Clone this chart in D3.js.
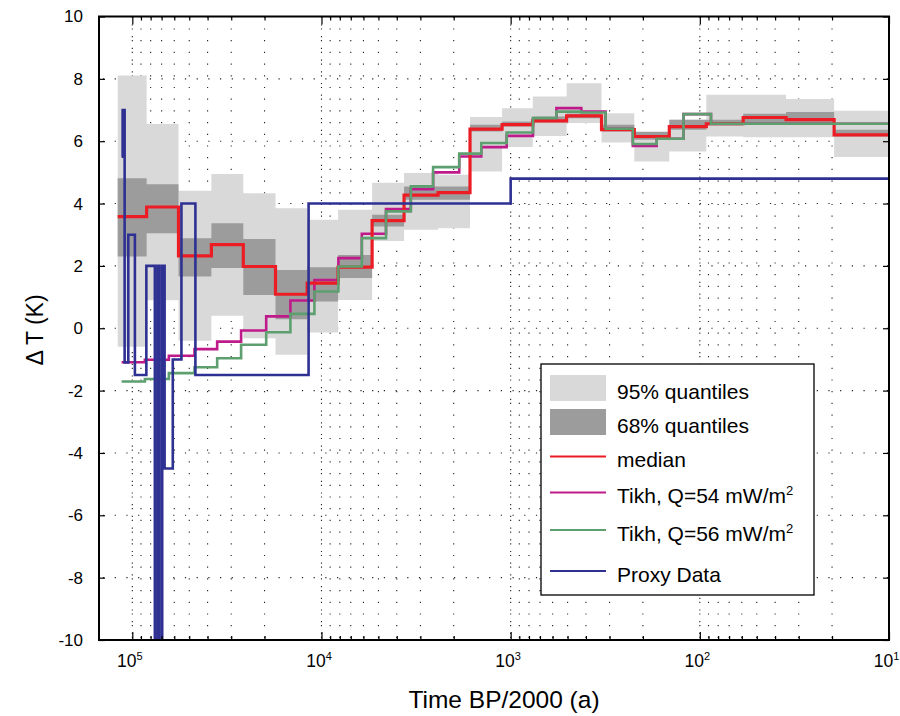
<!DOCTYPE html>
<html><head><meta charset="utf-8">
<script src="https://cdn.jsdelivr.net/npm/d3@7"></script>
<style>body{margin:0;background:#fff;} svg{display:block;font-family:"Liberation Sans",Arial,sans-serif;}</style>
</head><body><svg id="c" width="900" height="716"></svg>
<script>
// ---------- DATA ----------
// median / quantile layer edges (time BP/2000, years)
const medEdges = [119500, 84000, 57000, 38200, 25900, 17500, 11900, 8170, 5400, 3660, 2420, 1640, 1110, 764, 506, 331, 222, 145, 92.4, 59, 35, 19.5, 10];
const median = [3.58, 3.89, 2.32, 2.68, 1.98, 1.09, 1.45, 1.96, 3.45, 4.27, 4.35, 6.39, 6.53, 6.65, 6.81, 6.37, 6.15, 6.47, 6.56, 6.76, 6.69, 6.2];
const q95lo = [-0.59, 0.9, -0.4, 0.4, -0.32, -0.85, -0.14, 0.91, 2.8, 3.16, 3.21, 5.03, 5.81, 6.17, 6.58, 5.96, 5.35, 5.67, 6.15, 6.13, 6.13, 5.49];
const q95hi = [8.11, 6.55, 4.41, 4.95, 4.33, 3.85, 3.48, 3.8, 4.67, 4.98, 4.92, 6.78, 7.06, 7.43, 7.86, 6.9, 6.24, 6.69, 7.49, 7.49, 7.35, 6.98];
const q68lo = [2.30, 3.05, 1.66, 1.93, 1.07, 0.29, 0.86, 1.61, 3.26, 4.12, 4.12, 6.31, 6.47, 6.6, 6.74, 6.31, 6.05, 6.37, 6.5, 6.58, 6.58, 6.15];
const q68hi = [4.81, 4.62, 2.89, 3.37, 2.86, 1.87, 1.96, 2.35, 3.64, 4.55, 4.55, 6.53, 6.63, 6.79, 6.89, 6.53, 6.3, 6.69, 6.69, 6.88, 6.94, 6.37];
// Tikhonov solutions
const tikhEdges = [113900, 85800, 64100, 46900, 35600, 26600, 19600, 14600, 10900, 8140, 6120, 4560, 3370, 2570, 1870, 1430, 1050, 762, 573, 423, 315, 226, 169, 122, 87.3, 10];
const tikh54 = [-1.09, -1.01, -0.88, -0.67, -0.43, -0.07, 0.38, 0.89, 1.55, 2.25, 3.03, 3.82, 4.46, 5.0, 5.51, 5.81, 6.17, 6.71, 7.06, 6.95, 6.4, 5.85, 6.08, 6.87, 6.56];
const tikh56 = [-1.71, -1.63, -1.44, -1.25, -0.96, -0.53, -0.13, 0.46, 1.18, 1.98, 2.89, 3.75, 4.55, 5.17, 5.6, 5.94, 6.28, 6.74, 6.95, 6.92, 6.4, 5.91, 6.08, 6.87, 6.56];
// Proxy data
const proxyEdges = [113900, 112500, 109800, 105000, 96900, 84300, 76000, 73600, 71800, 69500, 67500, 61100, 55000, 46400, 11700, 1000, 10];
const proxy = [5.5, 7.0, -1.1, 3.0, -1.5, 2.0, -14, 2.0, -14, 2.0, -4.5, -1.0, 4.0, -1.5, 4.0, 4.8];
// axes
const xMajorTicks = [1e5, 1e4, 1e3, 1e2, 1e1];
const xMajorExp = ["5", "4", "3", "2", "1"];
const yTicks = [-10, -8, -6, -4, -2, 0, 2, 4, 6, 8, 10];
const legendLabels = ["95% quantiles", "68% quantiles", "median", "Tikh, Q=54 mW/m", "Tikh, Q=56 mW/m", "Proxy Data"];
const legendSup = ["", "", "", "2", "2", ""];

// ---------- LAYOUT ----------
const W = 900, H = 716;
const L = 99, R = 889, T = 16.5, B = 640;
const COL = {q95: "#d9d9d9", q68: "#9c9c9c", med: "#ec1c24", t54: "#bf1a8a", t56: "#5e9f70", proxy: "#2e3192"};

const x = d3.scaleLog().domain([1.5e5, 10]).range([L, R]);
const y = d3.scaleLinear().domain([-10, 10]).range([B, T]);
const xMinorTicks = [];
for (let e = 1; e <= 4; e++) for (let k = 2; k <= 9; k++) xMinorTicks.push(k * Math.pow(10, e));

const svg = d3.select("#c");
svg.append("rect").attr("width", W).attr("height", H).attr("fill", "#fff");
svg.append("defs").append("clipPath").attr("id", "clip")
  .append("rect").attr("x", L).attr("y", T).attr("width", R - L).attr("height", B - T);

// grid
const grid = svg.append("g").attr("stroke", "#222").attr("stroke-width", 1.1);
grid.selectAll("line.vmin").data(xMinorTicks.concat(xMajorTicks)).join("line")
  .attr("x1", d => x(d)).attr("x2", d => x(d)).attr("y1", B - 2).attr("y2", T)
  .attr("stroke-dasharray", "1.2,10.5");
grid.selectAll("line.vmaj").data(xMajorTicks).join("line")
  .attr("x1", d => x(d)).attr("x2", d => x(d)).attr("y1", B - 6).attr("y2", T)
  .attr("stroke-dasharray", "1.2,10.5");
grid.selectAll("line.h").data(yTicks.filter(v => v > -10 && v < 10)).join("line")
  .attr("x1", L + 4).attr("x2", R).attr("y1", d => y(d)).attr("y2", d => y(d))
  .attr("stroke-dasharray", "1.2,10.5");

// helpers
function stepPts(edges, vals) {
  const p = [];
  vals.forEach((v, i) => { p.push([edges[i], v]); p.push([edges[i + 1], v]); });
  return p;
}
function bandPts(edges, lo, hi) {
  const p = [];
  lo.forEach((v, i) => { p.push({t: edges[i], lo: v, hi: hi[i]}); p.push({t: edges[i + 1], lo: v, hi: hi[i]}); });
  return p;
}
const area = d3.area().x(d => x(d.t)).y0(d => y(d.lo)).y1(d => y(d.hi));
const line = d3.line().x(d => x(d[0])).y(d => y(d[1]));

const plot = svg.append("g").attr("clip-path", "url(#clip)");
plot.append("path").attr("d", area(bandPts(medEdges, q95lo, q95hi))).attr("fill", COL.q95);
plot.append("path").attr("d", area(bandPts(medEdges, q68lo, q68hi))).attr("fill", COL.q68);
plot.append("path").attr("d", line(stepPts(tikhEdges, tikh54))).attr("fill", "none").attr("stroke", COL.t54).attr("stroke-width", 2.6);
plot.append("path").attr("d", line(stepPts(medEdges, median))).attr("fill", "none").attr("stroke", COL.med).attr("stroke-width", 3.2);
plot.append("path").attr("d", line(stepPts(tikhEdges, tikh56))).attr("fill", "none").attr("stroke", COL.t56).attr("stroke-width", 2.6);
plot.append("path").attr("d", line(stepPts(proxyEdges, proxy))).attr("fill", "none").attr("stroke", COL.proxy).attr("stroke-width", 2.6);

// axes
function clean(g) { g.select(".domain").remove(); g.selectAll(".tick line").attr("stroke", "#000").attr("stroke-width", 1.2); }
svg.append("g").attr("transform", `translate(0,${B})`)
  .call(d3.axisBottom(x).tickValues(xMinorTicks).tickSizeInner(-4).tickSizeOuter(0).tickFormat("")).call(clean);
svg.append("g").attr("transform", `translate(0,${T})`)
  .call(d3.axisTop(x).tickValues(xMinorTicks).tickSizeInner(-4).tickSizeOuter(0).tickFormat("")).call(clean);
svg.append("g").attr("transform", `translate(0,${T})`)
  .call(d3.axisTop(x).tickValues(xMajorTicks).tickSizeInner(-8).tickSizeOuter(0).tickFormat("")).call(clean);
const gx = svg.append("g").attr("transform", `translate(0,${B})`)
  .call(d3.axisBottom(x).tickValues(xMajorTicks).tickSizeInner(-8).tickSizeOuter(0).tickFormat("")).call(clean);
gx.selectAll(".tick").each(function (d, i) {
  const t = d3.select(this).append("text").attr("x", -3).attr("y", 27).attr("fill", "#000")
    .attr("text-anchor", "middle").attr("font-size", 17.5);
  t.append("tspan").text("10");
  t.append("tspan").attr("font-size", 11).attr("dy", -7).text(xMajorExp[i]);
});
const gy = svg.append("g").attr("transform", `translate(${L},0)`)
  .call(d3.axisLeft(y).tickValues(yTicks).tickSizeInner(-6).tickSizeOuter(0).tickPadding(16).tickFormat(d => String(d))).call(clean);
gy.selectAll(".tick text").attr("font-size", 17).attr("fill", "#000").attr("font-family", "Liberation Sans, Arial, sans-serif");
svg.append("g").attr("transform", `translate(${R},0)`)
  .call(d3.axisRight(y).tickValues(yTicks).tickSizeInner(-6).tickSizeOuter(0).tickFormat("")).call(clean);

svg.append("rect").attr("x", L).attr("y", T).attr("width", R - L).attr("height", B - T)
  .attr("fill", "none").attr("stroke", "#000").attr("stroke-width", 2);

// titles
svg.append("text").attr("x", 504).attr("y", 708).attr("text-anchor", "middle").attr("font-size", 24.5).text("Time BP/2000 (a)");
svg.append("text").attr("transform", "translate(43,330) rotate(-90)").attr("text-anchor", "middle").attr("font-size", 23).text("Δ T (K)");

// legend
const lg = svg.append("g");
lg.append("rect").attr("x", 541).attr("y", 364).attr("width", 273).attr("height", 231)
  .attr("fill", "#fff").attr("stroke", "#000").attr("stroke-width", 1.3);
const rowY = [388, 422, 456.5, 492.5, 530, 571];
const swatch = [COL.q95, COL.q68, COL.med, COL.t54, COL.t56, COL.proxy];
legendLabels.forEach((lab, i) => {
  if (i < 2) {
    lg.append("rect").attr("x", 550).attr("y", rowY[i] - 13).attr("width", 56).attr("height", 26).attr("fill", swatch[i]);
  } else {
    lg.append("line").attr("x1", 550).attr("x2", 606).attr("y1", rowY[i]).attr("y2", rowY[i])
      .attr("stroke", swatch[i]).attr("stroke-width", 2.2);
  }
  const t = lg.append("text").attr("x", 617).attr("y", rowY[i] + 10.5).attr("font-size", 21).attr("fill", "#000");
  t.append("tspan").text(lab);
  if (legendSup[i]) t.append("tspan").attr("font-size", 13).attr("dy", -8).text(legendSup[i]);
});
</script></body></html>
